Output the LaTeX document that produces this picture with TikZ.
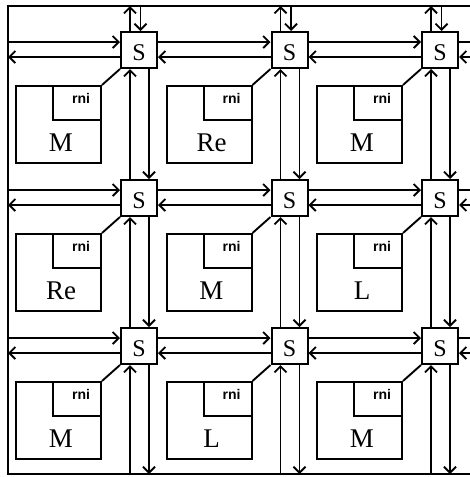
\documentclass[tikz,border=0pt]{standalone}
\usepackage{fontspec}
\setmainfont{Liberation Serif}
\newfontfamily\rnifont{Liberation Sans}
\usetikzlibrary{arrows.meta}

\tikzset{
  wire/.style={line width=1.9pt},
  arr/.style={wire,-{Straight Barb[length=6pt,width=12pt,line width=1.9pt]}},
  switch/.style={draw,line width=2pt,fill=white,minimum width=36pt,minimum height=36pt,
    inner sep=0pt,text height=21pt,text depth=0pt,font=\fontsize{24}{24}\selectfont},
  modbox/.style={draw,line width=2pt,minimum width=85pt,minimum height=77pt,inner sep=0pt,anchor=north east},
  rnibox/.style={draw,line width=2pt,minimum width=48pt,minimum height=34pt,inner sep=0pt,anchor=north east},
  rnitext/.style={anchor=base,inner sep=0pt,font=\rnifont\bfseries\fontsize{14}{14}\selectfont},
  modtext/.style={anchor=base,inner sep=0pt,font=\fontsize{27}{27}\selectfont},
}

\begin{document}
\begin{tikzpicture}[x=1pt,y=-1pt]
\useasboundingbox (0,0) rectangle (470,477);

% outer frame (open on the right)
\coordinate (fr-tr) at (470,6);
\coordinate (fr-tl) at (8,6);
\coordinate (fr-bl) at (8,474);
\coordinate (fr-br) at (470,474);
\draw[wire] (fr-tr) -- (fr-tl) -- (fr-bl) -- (fr-br);

% switches and attached modules
\foreach \r/\cy/\la/\lb/\lc in {1/50/M/Re/M, 2/198/Re/M/L, 3/346/M/L/M}{
  \foreach \c/\cx/\lab in {1/139/\la, 2/289.5/\lb, 3/440/\lc}{
    \node[switch] (s-\r-\c) at (\cx,\cy) {S};
    \node[modbox] (m-\r-\c) at (\cx-37,\cy+35) {};
    \node[rnibox] (n-\r-\c) at (\cx-37,\cy+35) {};
    \node[rnitext] (t-\r-\c) at (\cx-58,\cy+53.5) {rni};
    \node[modtext] (l-\r-\c) at (\cx-78,\cy+101.5) {\lab};
    \draw[wire] (m-\r-\c.north east) -- (s-\r-\c.south west);
  }
}

% horizontal links between neighbouring switches
\foreach \r in {1,2,3}{
  \foreach \c in {1,2}{
    \pgfmathtruncatemacro{\cn}{\c+1}
    \draw[arr] ([yshift=8pt]s-\r-\c.east) -- ([yshift=8pt]s-\r-\cn.west);
    \draw[arr] ([yshift=-7pt]s-\r-\cn.west) -- ([yshift=-7pt]s-\r-\c.east);
  }
}

% vertical links between neighbouring switches
\foreach \c in {1,2,3}{
  \foreach \r in {1,2}{
    \pgfmathtruncatemacro{\rn}{\r+1}
    \draw[arr] ([xshift=10pt]s-\r-\c.south) -- ([xshift=10pt]s-\rn-\c.north);
    \draw[arr] ([xshift=-9pt]s-\rn-\c.north) -- ([xshift=-9pt]s-\r-\c.south);
  }
}

% links to the frame: left and right
\foreach \r/\cy in {1/50, 2/198, 3/346}{
  \coordinate (w-in-\r) at (8,\cy-8);
  \coordinate (w-out-\r) at (8,\cy+7);
  \coordinate (e-out-\r) at (470,\cy-8);
  \coordinate (e-in-\r) at (470,\cy+7);
  \draw[arr] (w-in-\r) -- ([yshift=8pt]s-\r-1.west);
  \draw[arr] ([yshift=-7pt]s-\r-1.west) -- (w-out-\r);
  \draw[wire] ([yshift=8pt]s-\r-3.east) -- (e-out-\r);
  \draw[arr] (e-in-\r) -- ([yshift=-7pt]s-\r-3.east);
}

% links to the frame: top and bottom
\foreach \c/\cx in {1/139, 2/289.5, 3/440}{
  \coordinate (n-out-\c) at (\cx-9,6);
  \coordinate (n-in-\c) at (\cx+1.5,6);
  \coordinate (s-in-\c) at (\cx-9,474);
  \coordinate (s-out-\c) at (\cx+10,474);
  \draw[arr] ([xshift=-9pt]s-1-\c.north) -- (n-out-\c);
  \draw[arr] (n-in-\c) -- ([xshift=1.5pt]s-1-\c.north);
  \draw[arr] (s-in-\c) -- ([xshift=-9pt]s-3-\c.south);
  \draw[arr] ([xshift=10pt]s-3-\c.south) -- (s-out-\c);
}
\end{tikzpicture}
\end{document}
